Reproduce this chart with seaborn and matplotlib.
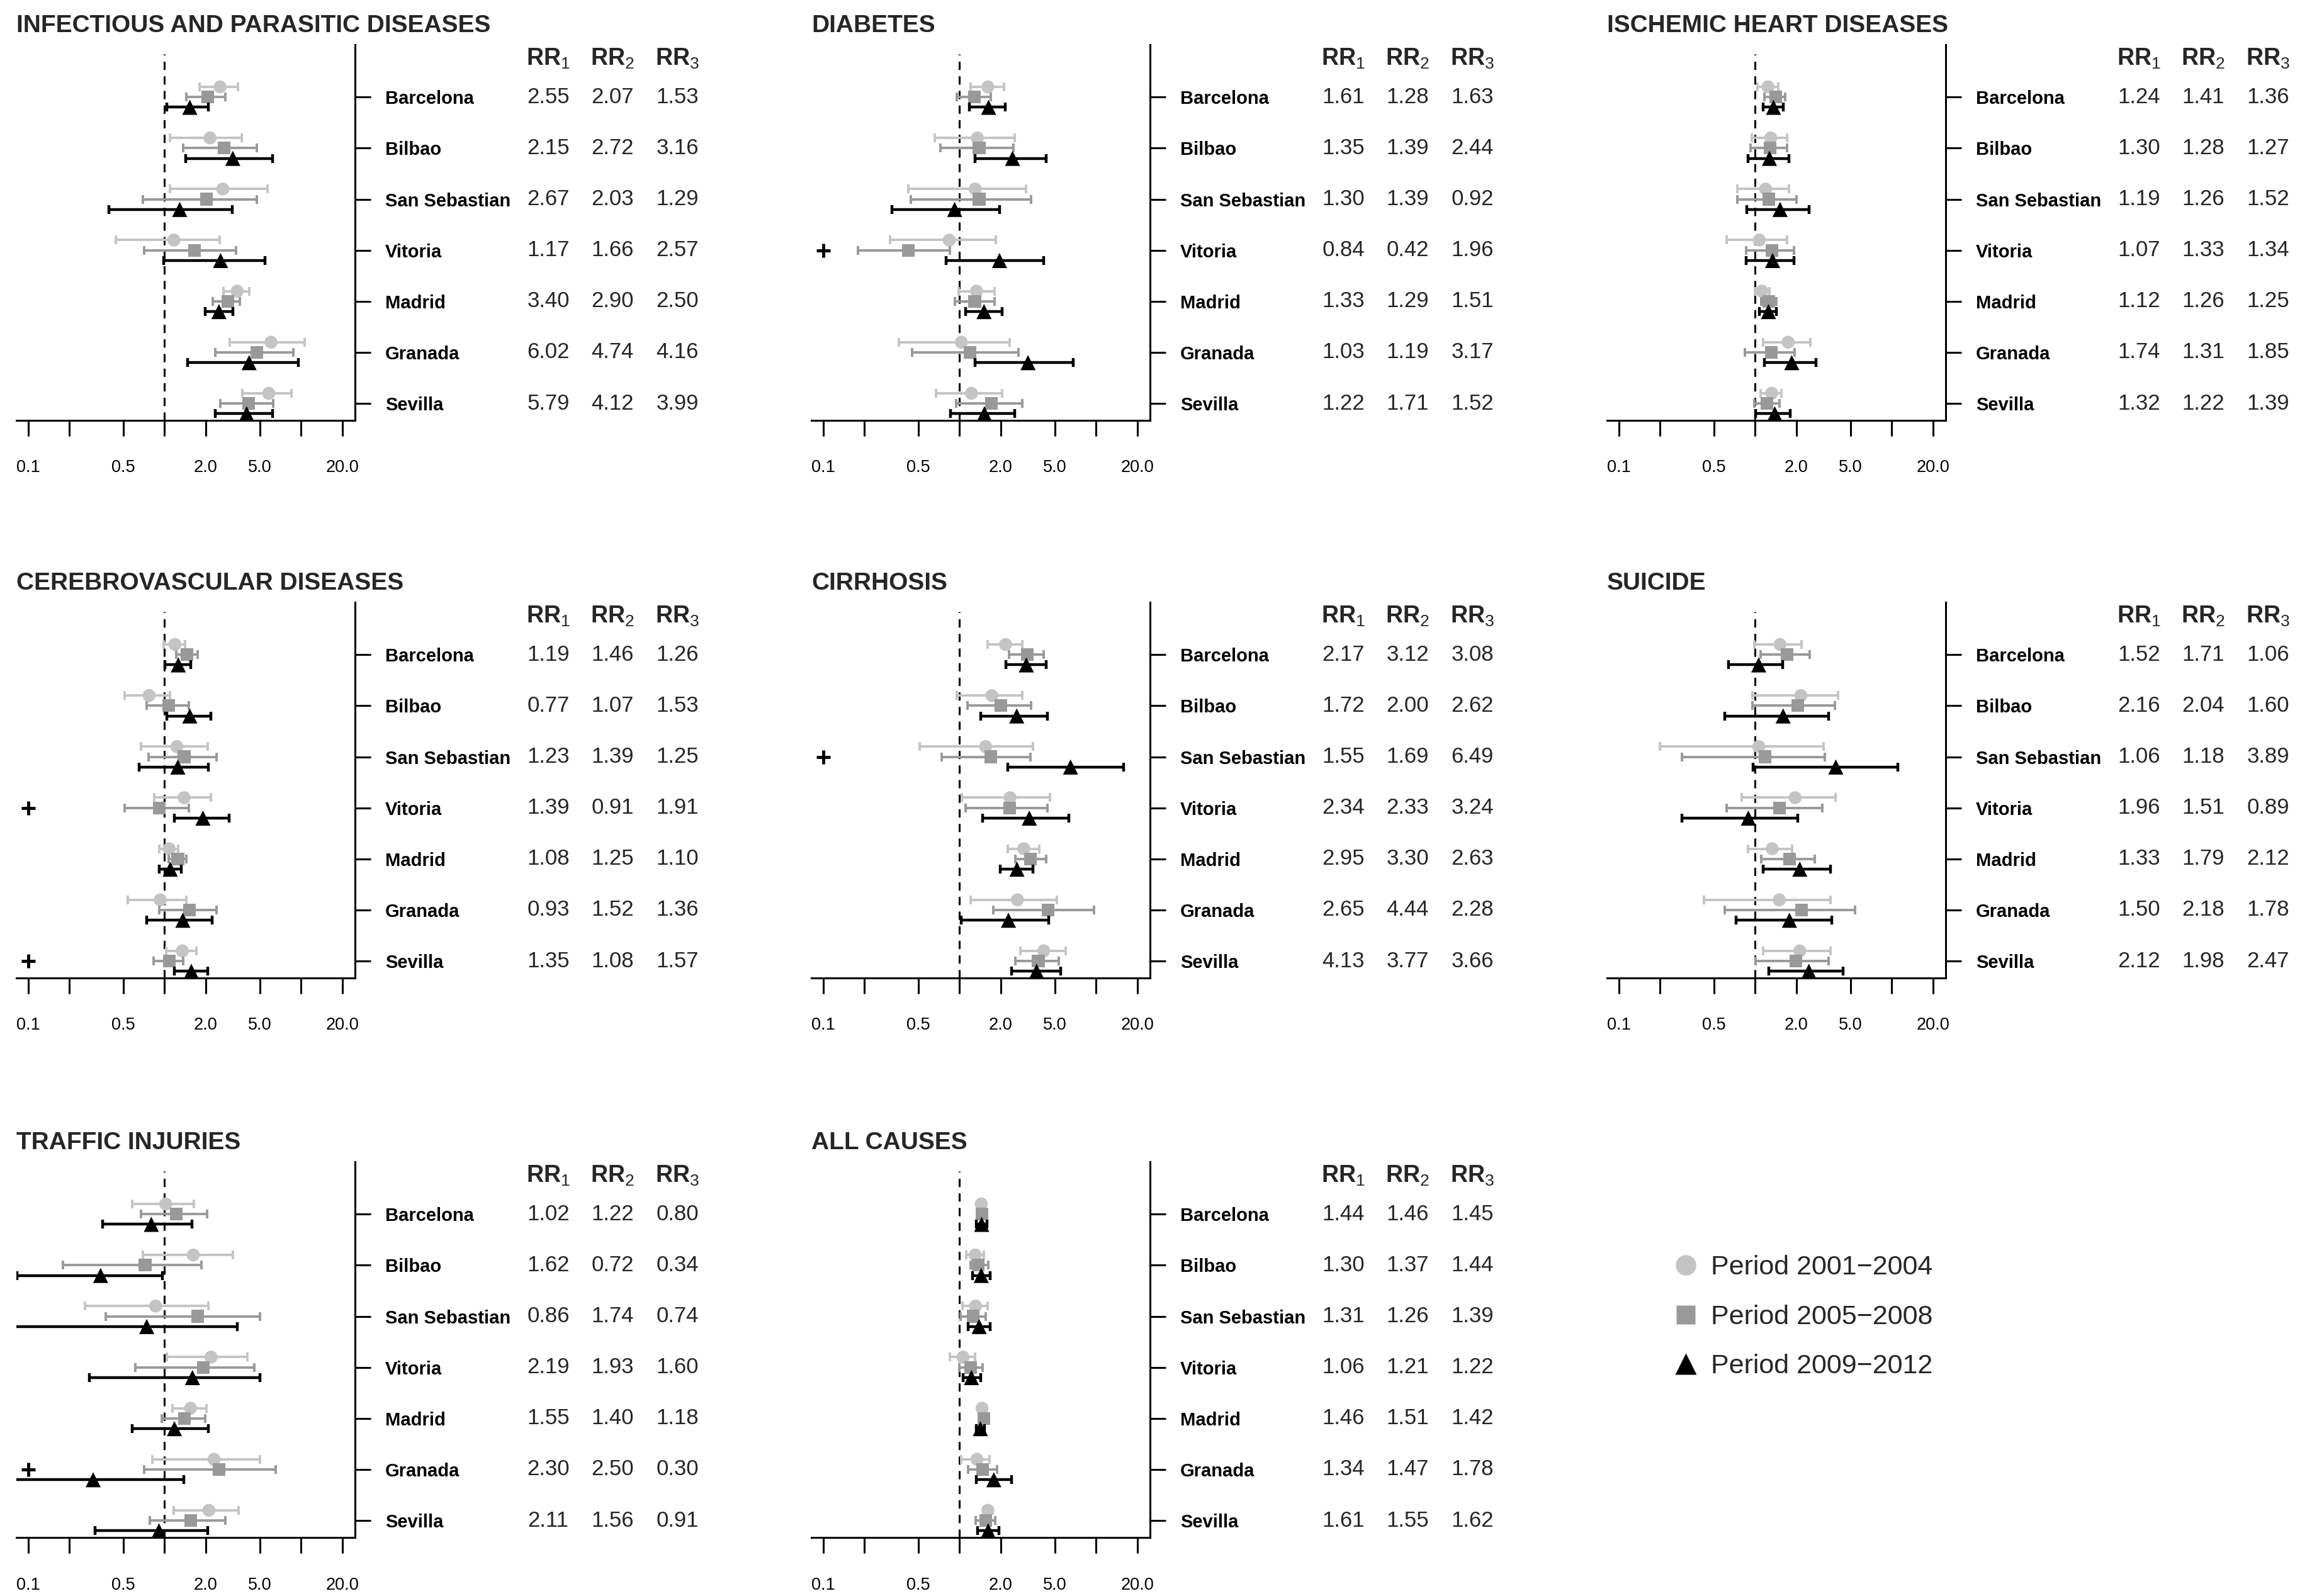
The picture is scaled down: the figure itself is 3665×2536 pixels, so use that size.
import numpy as np
import pandas as pd
import matplotlib
matplotlib.use("Agg")
import matplotlib.pyplot as plt
from matplotlib.lines import Line2D
from matplotlib.ticker import NullLocator
import seaborn as sns

# ---------------- data ----------------
cities = ["Barcelona", "Bilbao", "San Sebastian", "Vitoria", "Madrid", "Granada", "Sevilla"]
periods = ["Period 2001\u22122004", "Period 2005\u22122008", "Period 2009\u22122012"]
x_ticks = [0.1, 0.2, 0.5, 1, 2, 5, 10, 20]
x_tick_labels = ["0.1", "", "0.5", "", "2.0", "5.0", "", "20.0"]
titles = ["INFECTIOUS AND PARASITIC DISEASES", "DIABETES", "ISCHEMIC HEART DISEASES",
          "CEREBROVASCULAR DISEASES", "CIRRHOSIS", "SUICIDE",
          "TRAFFIC INJURIES", "ALL CAUSES"]

# each list: [period 2001-2004, period 2005-2008, period 2009-2012]
infectious_rr = [[2.55, 2.15, 2.67, 1.17, 3.40, 6.02, 5.79],
                 [2.07, 2.72, 2.03, 1.66, 2.90, 4.74, 4.12],
                 [1.53, 3.16, 1.29, 2.57, 2.50, 4.16, 3.99]]
infectious_lo = [[1.80, 1.10, 1.10, 0.44, 2.71, 2.99, 3.70],
                 [1.45, 1.37, 0.69, 0.71, 2.25, 2.34, 2.55],
                 [1.04, 1.42, 0.39, 0.98, 1.99, 1.47, 2.34]]
infectious_hi = [[3.46, 3.68, 5.67, 2.52, 4.19, 10.6, 8.53],
                 [2.79, 4.73, 4.73, 3.35, 3.56, 8.77, 6.23],
                 [2.10, 6.16, 3.12, 5.46, 3.15, 9.50, 6.16]]

diabetes_rr = [[1.61, 1.35, 1.30, 0.84, 1.33, 1.03, 1.22],
               [1.28, 1.39, 1.39, 0.42, 1.29, 1.19, 1.71],
               [1.63, 2.44, 0.92, 1.96, 1.51, 3.17, 1.52]]
diabetes_lo = [[1.21, 0.66, 0.42, 0.31, 0.98, 0.36, 0.67],
               [0.95, 0.72, 0.44, 0.18, 0.92, 0.45, 0.94],
               [1.18, 1.30, 0.32, 0.80, 1.11, 1.30, 0.86]]
diabetes_hi = [[2.11, 2.54, 3.05, 1.85, 1.80, 2.32, 2.05],
               [1.69, 2.49, 3.35, 0.85, 1.80, 2.70, 2.87],
               [2.17, 4.31, 1.97, 4.14, 2.05, 6.80, 2.52]]

ischemic_rr = [[1.24, 1.30, 1.19, 1.07, 1.12, 1.74, 1.32],
               [1.41, 1.28, 1.26, 1.33, 1.26, 1.31, 1.22],
               [1.36, 1.27, 1.52, 1.34, 1.25, 1.85, 1.39]]
ischemic_lo = [[1.04, 0.94, 0.74, 0.62, 0.99, 1.14, 1.10],
               [1.17, 0.92, 0.74, 0.86, 1.11, 0.84, 0.98],
               [1.14, 0.89, 0.87, 0.86, 1.07, 1.17, 1.01]]
ischemic_hi = [[1.47, 1.71, 1.76, 1.71, 1.27, 2.54, 1.56],
               [1.66, 1.71, 2.01, 1.93, 1.42, 1.95, 1.51],
               [1.60, 1.76, 2.47, 1.93, 1.42, 2.79, 1.80]]

cerebro_rr = [[1.19, 0.77, 1.23, 1.39, 1.08, 0.93, 1.35],
              [1.46, 1.07, 1.39, 0.91, 1.25, 1.52, 1.08],
              [1.26, 1.53, 1.25, 1.91, 1.10, 1.36, 1.57]]
cerebro_lo = [[0.98, 0.51, 0.67, 0.84, 0.91, 0.54, 1.03],
              [1.22, 0.74, 0.76, 0.51, 1.07, 0.91, 0.83],
              [1.01, 1.04, 0.65, 1.18, 0.91, 0.74, 1.18]]
cerebro_hi = [[1.41, 1.10, 2.06, 2.18, 1.26, 1.45, 1.71],
              [1.75, 1.50, 2.40, 1.50, 1.45, 2.40, 1.37],
              [1.56, 2.18, 2.10, 2.96, 1.32, 2.23, 2.06]]

cirrhosis_rr = [[2.17, 1.72, 1.55, 2.34, 2.95, 2.65, 4.13],
                [3.12, 2.00, 1.69, 2.33, 3.30, 4.44, 3.77],
                [3.08, 2.62, 6.49, 3.24, 2.63, 2.28, 3.66]]
cirrhosis_lo = [[1.60, 0.95, 0.51, 1.04, 2.25, 1.21, 2.79],
                [2.31, 1.14, 0.74, 1.11, 2.56, 1.76, 2.56],
                [2.18, 1.42, 2.26, 1.47, 1.99, 1.03, 2.41]]
cirrhosis_hi = [[2.87, 2.87, 3.44, 4.58, 3.81, 5.17, 6.01],
                [4.14, 3.35, 3.31, 4.40, 4.31, 9.63, 5.32],
                [4.31, 4.40, 15.9, 6.34, 3.44, 4.49, 5.49]]

suicide_rr = [[1.52, 2.16, 1.06, 1.96, 1.33, 1.50, 2.12],
              [1.71, 2.04, 1.18, 1.51, 1.79, 2.18, 1.98],
              [1.06, 1.60, 3.89, 0.89, 2.12, 1.78, 2.47]]
suicide_lo = [[0.98, 0.95, 0.20, 0.80, 0.89, 0.42, 1.14],
              [1.09, 0.95, 0.29, 0.62, 1.11, 0.60, 1.01],
              [0.64, 0.60, 0.96, 0.29, 1.14, 0.72, 1.26]]
suicide_hi = [[2.18, 4.05, 3.15, 3.89, 1.87, 3.56, 3.56],
              [2.51, 3.81, 3.24, 3.11, 2.72, 5.39, 3.44],
              [1.59, 3.44, 11.1, 2.05, 3.54, 3.63, 4.40]]

traffic_rr = [[1.02, 1.62, 0.86, 2.19, 1.55, 2.30, 2.11],
              [1.22, 0.72, 1.74, 1.93, 1.40, 2.50, 1.56],
              [0.80, 0.34, 0.74, 1.60, 1.18, 0.30, 0.91]]
traffic_lo = [[0.58, 0.69, 0.26, 1.04, 1.14, 0.81, 1.17],
              [0.67, 0.18, 0.37, 0.61, 0.95, 0.71, 0.78],
              [0.35, 0.083, 0.06, 0.28, 0.58, 0.05, 0.31]]
traffic_hi = [[1.64, 3.15, 2.10, 4.02, 2.03, 4.98, 3.48],
              [2.04, 1.86, 4.98, 4.54, 1.99, 6.49, 2.79],
              [1.58, 0.96, 3.42, 4.98, 2.10, 1.38, 2.08]]

allcauses_rr = [[1.44, 1.30, 1.31, 1.06, 1.46, 1.34, 1.61],
                [1.46, 1.37, 1.26, 1.21, 1.51, 1.47, 1.55],
                [1.45, 1.44, 1.39, 1.22, 1.42, 1.78, 1.62]]
allcauses_lo = [[1.36, 1.12, 1.05, 0.85, 1.39, 1.03, 1.50],
                [1.38, 1.20, 1.02, 0.99, 1.44, 1.16, 1.31],
                [1.33, 1.24, 1.16, 1.06, 1.33, 1.32, 1.35]]
allcauses_hi = [[1.53, 1.50, 1.61, 1.30, 1.53, 1.66, 1.73],
                [1.55, 1.62, 1.56, 1.47, 1.58, 1.89, 1.83],
                [1.58, 1.68, 1.68, 1.42, 1.52, 2.41, 1.95]]

# cities flagged with "+" in each panel
significant = [[], ["Vitoria"], [], ["Vitoria", "Sevilla"], ["San Sebastian"], [],
               ["Granada"], []]

panel_rr = [infectious_rr, diabetes_rr, ischemic_rr, cerebro_rr,
            cirrhosis_rr, suicide_rr, traffic_rr, allcauses_rr]
panel_lo = [infectious_lo, diabetes_lo, ischemic_lo, cerebro_lo,
            cirrhosis_lo, suicide_lo, traffic_lo, allcauses_lo]
panel_hi = [infectious_hi, diabetes_hi, ischemic_hi, cerebro_hi,
            cirrhosis_hi, suicide_hi, traffic_hi, allcauses_hi]

# ---------------- style ----------------
sns.set_style("white")
plt.rcParams["font.family"] = ["Liberation Sans", "DejaVu Sans"]
plt.rcParams["mathtext.fontset"] = "custom"
plt.rcParams["mathtext.rm"] = "Liberation Sans"
plt.rcParams["mathtext.bf"] = "Liberation Sans:bold"
plt.rcParams["mathtext.it"] = "Liberation Sans:italic"

colors = ["#C4C4C4", "#999999", "#000000"]
markers = ["o", "s", "^"]
sizes = [220, 210, 300]
bar_lw = [2.8, 2.8, 3.2]
offsets = [0.2, 0.0, -0.2]

W, H = 3666, 2536
fig = plt.figure(figsize=(W / 100, H / 100), dpi=100)
fig.patch.set_facecolor("white")

col_off = [0, 1263, 2527]
row_off = [0, 886, 1775]
AX_L, AX_R, AX_T, AX_B = 25.7, 564.0, 71.0, 668.0
YLIM = (0.669, 8.026)
ypos = np.arange(len(cities), 0, -1)  # Barcelona at top

axw = AX_R - AX_L
rr_cols_px = [871, 973, 1076]

for idx in range(len(titles)):
    r, c = divmod(idx, 3)
    l = AX_L + col_off[c]
    rg = AX_R + col_off[c]
    t = AX_T + row_off[r]
    b = AX_B + row_off[r]
    ax = fig.add_axes([l / W, 1 - b / H, (rg - l) / W, (b - t) / H])
    ax.set_facecolor("none")

    rows = []
    for k in range(3):
        for i, city in enumerate(cities):
            rows.append({"city": city, "period": periods[k], "k": k,
                         "y": ypos[i] + offsets[k],
                         "rr": panel_rr[idx][k][i],
                         "lo": panel_lo[idx][k][i],
                         "hi": panel_hi[idx][k][i]})
    df = pd.DataFrame(rows)

    ax.set_xscale("log")
    for k in range(3):
        d = df[df["k"] == k]
        ax.errorbar(d["rr"], d["y"],
                    xerr=[d["rr"] - d["lo"], d["hi"] - d["rr"]],
                    fmt="none", ecolor=colors[k], elinewidth=bar_lw[k],
                    capsize=4.7, capthick=bar_lw[k], zorder=3 + 2 * k)
        sns.scatterplot(data=d, x="rr", y="y", marker=markers[k], color=colors[k],
                        s=sizes[k], linewidth=0, edgecolor="none", ax=ax,
                        zorder=4 + 2 * k, legend=False)

    # reference line at RR = 1
    ax.vlines(1, YLIM[0], 7.84, colors="black", linewidth=2.2,
              linestyles=(0, (4.3, 3.3)), zorder=2)

    # significance marks
    for city in significant[idx]:
        ax.plot([0.1], [ypos[cities.index(city)]], marker="+", color="black",
                markersize=16, markeredgewidth=3.5, linestyle="none",
                clip_on=False, zorder=10)

    ax.set_xlim(0.0819, 24.8)
    ax.set_ylim(*YLIM)
    ax.set_xlabel("")
    ax.set_ylabel("")
    ax.set_xticks(x_ticks)
    ax.set_xticklabels(x_tick_labels)
    ax.xaxis.set_minor_locator(NullLocator())
    ax.tick_params(axis="x", direction="out", length=18, width=2.2, pad=27,
                   labelsize=19.5, bottom=True, colors="black")
    ax.yaxis.tick_right()
    ax.set_yticks(ypos)
    ax.set_yticklabels(cities, fontweight="bold", fontsize=21)
    ax.tick_params(axis="y", direction="out", length=18, width=2.2, pad=16.5,
                   right=True, left=False, colors="black")
    for side in ["top", "left"]:
        ax.spines[side].set_visible(False)
    for side in ["bottom", "right"]:
        ax.spines[side].set_visible(True)
        ax.spines[side].set_color("black")
        ax.spines[side].set_linewidth(2.2)
    ax.grid(False)

    # RR columns
    ytr = ax.get_yaxis_transform()
    for k in range(3):
        xf = (rr_cols_px[k] - AX_L) / axw
        ax.text(xf, 7.75, r"$\mathbf{RR}_{\mathrm{%d}}$" % (k + 1), transform=ytr,
                ha="center", va="center", fontsize=27, clip_on=False)
        for i in range(len(cities)):
            ax.text(xf, ypos[i], "%.2f" % panel_rr[idx][k][i], transform=ytr,
                    ha="center", va="center", fontsize=25, clip_on=False)

    fig.text((26 + col_off[c]) / W, 1 - (51 + row_off[r]) / H, titles[idx],
             fontsize=28, fontweight="bold", ha="left", va="baseline")

# legend
handles = [Line2D([0], [0], marker="o", linestyle="none", color=colors[0],
                  markeredgecolor="none", markersize=23.5),
           Line2D([0], [0], marker="s", linestyle="none", color=colors[1],
                  markeredgecolor="none", markersize=21),
           Line2D([0], [0], marker="^", linestyle="none", color=colors[2],
                  markeredgecolor="none", markersize=25)]
fig.legend(handles, periods, loc="upper left",
           bbox_to_anchor=(2656 / W, 1 - 1994 / H), frameon=False, fontsize=31,
           handlelength=1.0, handletextpad=0.45, labelspacing=0.9,
           borderpad=0, borderaxespad=0)

fig.savefig("out.png", dpi=100)
